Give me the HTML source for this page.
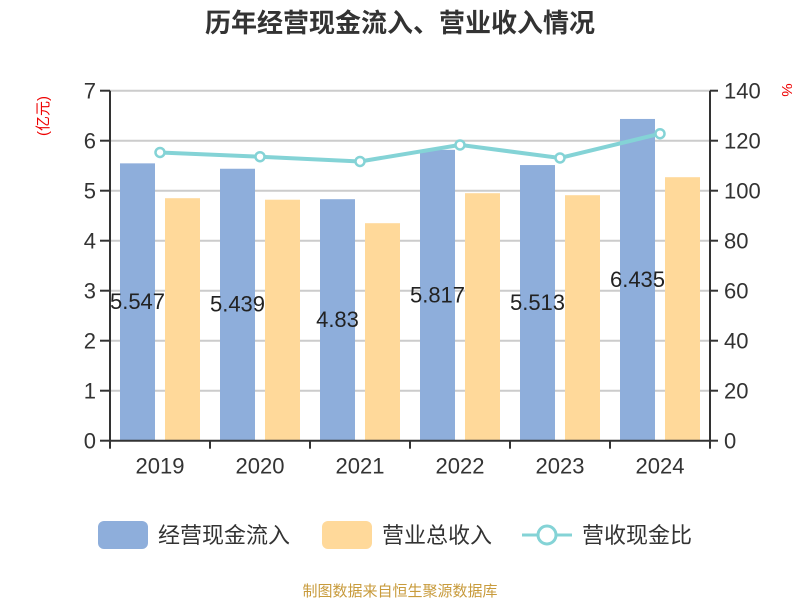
<!DOCTYPE html>
<html><head><meta charset="utf-8"><style>
body{margin:0;background:#fff;}
svg text{font-family:"Liberation Sans","Noto Sans CJK SC",sans-serif;}
</style></head><body>
<svg width="800" height="600" xmlns="http://www.w3.org/2000/svg">
<text x="400" y="32" text-anchor="middle" font-size="26" font-weight="bold" fill="#333">历年经营现金流入、营业收入情况</text>
<text transform="translate(48,116) rotate(-90)" text-anchor="middle" font-size="15" fill="#e00">(亿元)</text>
<text transform="translate(782,90) rotate(90)" text-anchor="middle" font-size="15" fill="#e00">%</text>
<g id="grid"></g><g id="bars"></g><g id="axes"></g><g id="line"></g><g id="labels"></g>
<g>
<rect x="98" y="521" width="50" height="28" rx="6" fill="#8eaedb"/>
<text x="158" y="543" font-size="22" fill="#333">经营现金流入</text>
<rect x="322" y="521" width="50" height="28" rx="6" fill="#ffd99a"/>
<text x="382" y="543" font-size="22" fill="#333">营业总收入</text>
<line x1="522" y1="535" x2="572" y2="535" stroke="#84d3d6" stroke-width="3"/>
<circle cx="547" cy="535" r="9" fill="#fff" stroke="#84d3d6" stroke-width="3"/>
<text x="582" y="543" font-size="22" fill="#333">营收现金比</text>
</g>
<text x="400" y="596" text-anchor="middle" font-size="15" fill="#c89b3c">制图数据来自恒生聚源数据库</text>
</svg>
<script>
const categories=["2019","2020","2021","2022","2023","2024"];
const inflow=[5.547,5.439,4.83,5.817,5.513,6.435];
const revenue=[4.85,4.82,4.35,4.95,4.91,5.27];
const ratio=[115.3,113.6,111.7,118.3,113.1,122.8];
const leftTicks=[0,1,2,3,4,5,6,7];
const rightTicks=[0,20,40,60,80,100,120,140];
const NS="http://www.w3.org/2000/svg";
const x0=110,x1=710,y0=440.7,y1=90.7;
const band=(x1-x0)/categories.length;
const yL=v=>y0-(v/7)*(y0-y1);
const yR=v=>y0-(v/140)*(y0-y1);
function mk(tag,attrs,parent){const e=document.createElementNS(NS,tag);for(const k in attrs)e.setAttribute(k,attrs[k]);document.getElementById(parent).appendChild(e);return e;}
leftTicks.forEach((t,i)=>{
 if(t>0){const g=mk('line',{x1:x0,x2:x1,y1:yL(t),y2:yL(t),stroke:'#ccc','stroke-width':2},'grid');
 
 }
 mk('line',{x1:x0-10,x2:x0,y1:yL(t),y2:yL(t),stroke:'#333','stroke-width':2},'axes');
 const tx=mk('text',{x:x0-14,y:yL(t)+8,'text-anchor':'end','font-size':22,fill:'#333'},'axes');tx.textContent=t;
 
 
});
rightTicks.forEach(t=>{
 mk('line',{x1:x1,x2:x1+8,y1:yR(t),y2:yR(t),stroke:'#333','stroke-width':2},'axes');
 const tx=mk('text',{x:x1+14,y:yR(t)+8,'font-size':22,fill:'#333'},'axes');tx.textContent=t;
 
 
});
mk('line',{x1:x0,x2:x0,y1:y1,y2:y0,stroke:'#333','stroke-width':2},'axes');
mk('line',{x1:x1,x2:x1,y1:y1,y2:y0,stroke:'#333','stroke-width':2},'axes');
mk('line',{x1:x0,x2:x1,y1:y0,y2:y0,stroke:'#333','stroke-width':2},'axes');
let pts=[];
categories.forEach((c,i)=>{
 const bx=x0+i*band;
 mk('line',{x1:bx,x2:bx,y1:y0,y2:y0+8,stroke:'#333','stroke-width':2},'axes');
 if(i==categories.length-1)mk('line',{x1:x1,x2:x1,y1:y0,y2:y0+8,stroke:'#333','stroke-width':2},'axes');
 const xl=mk('text',{x:bx+band/2,y:y0+33,'text-anchor':'middle','font-size':22,fill:'#333'},'axes');xl.textContent=c;
 
 
 const b=mk('rect',{x:bx+10,y:yL(inflow[i]),width:35,height:y0-yL(inflow[i]),fill:'#8eaedb'},'bars');
 
 
 const r=mk('rect',{x:bx+55,y:yL(revenue[i]),width:35,height:y0-yL(revenue[i]),fill:'#ffd99a'},'bars');
 
 
 const lb=mk('text',{x:bx+27.5,y:(yL(inflow[i])+y0)/2+7,'text-anchor':'middle','font-size':22,fill:'#222'},'labels');lb.textContent=inflow[i];
 
 
 pts.push([bx+band/2,yR(ratio[i])]);
});
const pl=mk('polyline',{points:pts.map(p=>p.join(',')).join(' '),fill:'none',stroke:'#84d3d6','stroke-width':4},'line');


pts.forEach((p,i)=>{const c=mk('circle',{cx:p[0],cy:p[1],r:4.5,fill:'#fff',stroke:'#84d3d6','stroke-width':2.5},'line');
 
 });
</script>
</body></html>
